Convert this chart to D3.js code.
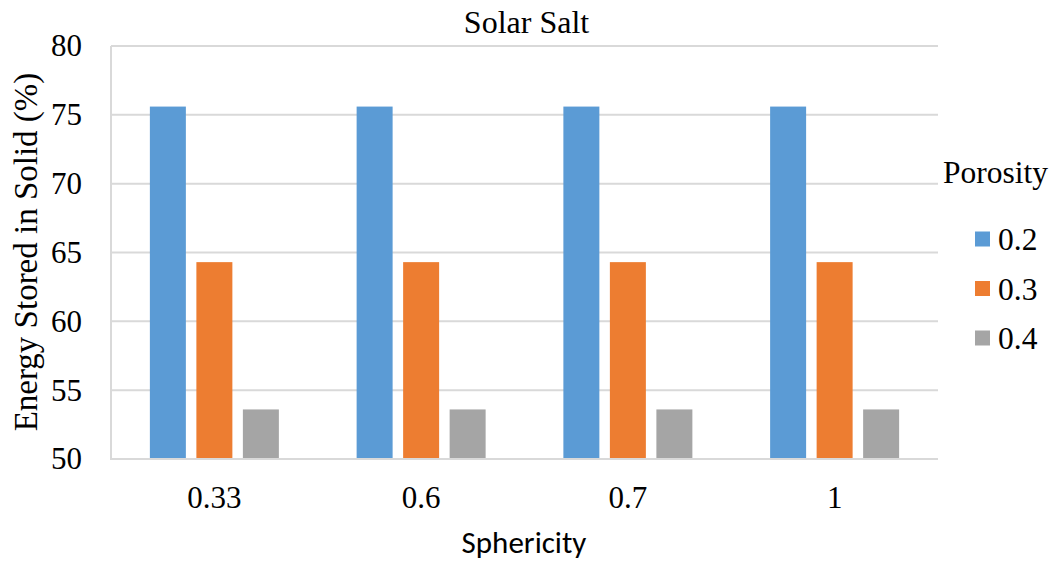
<!DOCTYPE html>
<html>
<head>
<meta charset="utf-8">
<script src="https://cdn.jsdelivr.net/npm/d3@7"></script>
<style>
  html, body { margin: 0; padding: 0; background: #fff; }
  svg { display: block; }
  .serif { font-family: "Liberation Serif", Tinos, "DejaVu Serif", "Noto Serif", FreeSerif, serif; }
  .sans { font-family: Carlito, Lato, "Open Sans", "Liberation Sans", sans-serif; }
</style>
</head>
<body>
<script>
// Energy stored in the solid phase, Solar Salt, by sphericity and porosity
const categories = ["0.33", "0.6", "0.7", "1"];
const seriesNames = ["0.2", "0.3", "0.4"];
const values02 = [75.6, 75.6, 75.6, 75.6];
const values03 = [64.3, 64.3, 64.3, 64.3];
const values04 = [53.6, 53.6, 53.6, 53.6];
const yTicks = [50, 55, 60, 65, 70, 75, 80];
const colors = ["#5b9bd5", "#ed7d31", "#a5a5a5"];

const seriesValues = [values02, values03, values04];
const rows = categories.map((c, i) => ({
  category: c,
  values: seriesNames.map((s, j) => ({ series: s, idx: j, value: seriesValues[j][i] }))
}));

const W = 1056, H = 565;
const plot = { left: 111, right: 938, top: 46, bottom: 459 };

const svg = d3.select("body").append("svg").attr("width", W).attr("height", H);

const x0 = d3.scaleBand().domain(categories).range([plot.left, plot.right]).padding(0);
const x1 = d3.scaleBand().domain(seriesNames).range([0, x0.bandwidth()])
  .paddingInner(0.226).paddingOuter(0.836);
const y = d3.scaleLinear().domain([50, 80]).range([plot.bottom, plot.top]);

// gridlines
svg.append("g").selectAll("line").data(yTicks.filter(t => t > 50)).join("line")
  .attr("x1", plot.left).attr("x2", plot.right)
  .attr("y1", d => y(d)).attr("y2", d => y(d))
  .attr("stroke", "#d9d9d9").attr("stroke-width", 2);

// bars
const groups = svg.append("g").selectAll("g").data(rows).join("g")
  .attr("transform", d => `translate(${x0(d.category)},0)`);
groups.selectAll("rect").data(d => d.values).join("rect")
  .attr("x", d => x1(d.series))
  .attr("width", x1.bandwidth())
  .attr("y", d => y(d.value))
  .attr("height", d => y(50) - y(d.value))
  .attr("fill", d => colors[d.idx]);

// axis lines
svg.append("line").attr("x1", plot.left).attr("x2", plot.left)
  .attr("y1", plot.top).attr("y2", plot.bottom)
  .attr("stroke", "#d9d9d9").attr("stroke-width", 2);
svg.append("line").attr("x1", plot.left - 1).attr("x2", plot.right)
  .attr("y1", plot.bottom).attr("y2", plot.bottom)
  .attr("stroke", "#d9d9d9").attr("stroke-width", 2);

// y axis labels
const yAxis = svg.append("g").attr("transform", `translate(${plot.left},0)`)
  .call(d3.axisLeft(y).tickValues(yTicks).tickSize(0).tickPadding(29));
yAxis.attr("font-family", null).attr("font-size", null);
yAxis.select(".domain").remove();
yAxis.selectAll("text").attr("class", "serif").style("font-size", "31px").attr("fill", "#000");

// x axis labels
const xAxis = svg.append("g").attr("transform", `translate(0,${plot.bottom})`)
  .call(d3.axisBottom(x0).tickSize(0).tickPadding(27));
xAxis.attr("font-family", null).attr("font-size", null);
xAxis.select(".domain").remove();
xAxis.selectAll("text").attr("class", "serif").style("font-size", "31px").attr("fill", "#000");

// title
svg.append("text").attr("class", "serif")
  .attr("x", (plot.left + plot.right) / 2 + 2).attr("y", 33)
  .attr("text-anchor", "middle").style("font-size", "32px")
  .attr("fill", "#000").text("Solar Salt");

// axis titles
svg.append("text").attr("class", "sans").attr("x", 524).attr("y", 553)
  .attr("text-anchor", "middle").style("font-size", "31px")
  .attr("fill", "#000").text("Sphericity");
svg.append("text").attr("class", "serif").attr("transform", `translate(37,252) rotate(-90)`)
  .attr("text-anchor", "middle").style("font-size", "33px")
  .attr("fill", "#000").text("Energy Stored in Solid (%)");

// legend
const legend = svg.append("g");
legend.append("text").attr("class", "serif").attr("x", 943).attr("y", 183)
  .style("font-size", "31.5px").attr("fill", "#000").text("Porosity");
const items = legend.selectAll("g.item").data(seriesNames).join("g")
  .attr("class", "item")
  .attr("transform", (d, i) => `translate(975,${239 + i * 49.5})`);
items.append("rect").attr("x", 0).attr("y", -7.5).attr("width", 15).attr("height", 15)
  .attr("fill", (d, i) => colors[i]);
items.append("text").attr("class", "serif").attr("x", 23).attr("y", 0).attr("dy", "0.35em")
  .style("font-size", "31.5px").attr("fill", "#000").text(d => d);
</script>
</body>
</html>
